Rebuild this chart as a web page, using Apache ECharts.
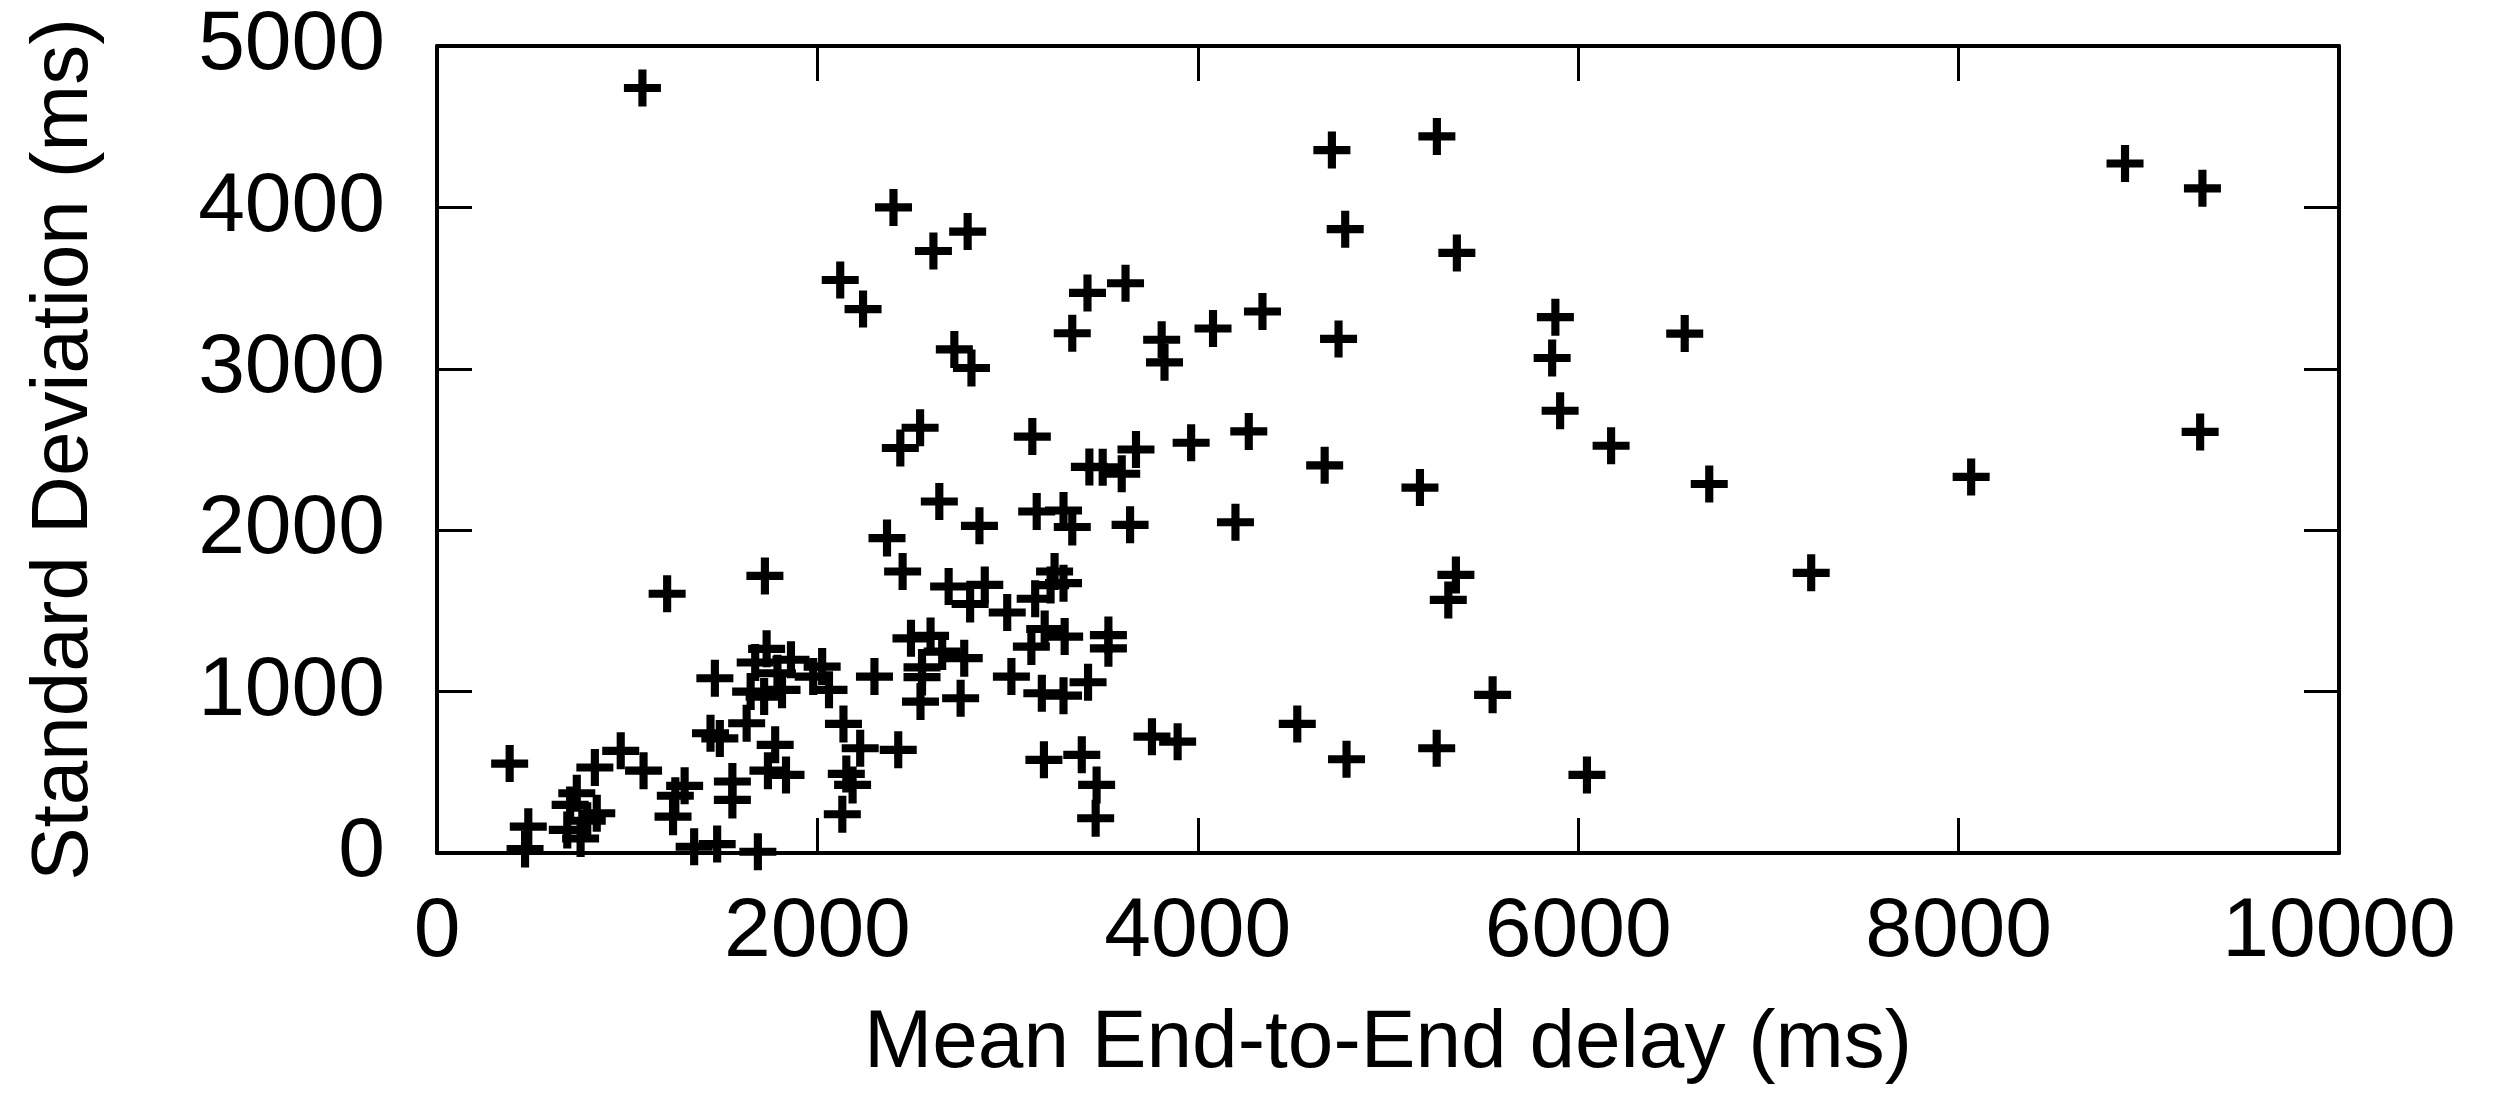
<!DOCTYPE html>
<html>
<head>
<meta charset="utf-8">
<title>Mean delay vs standard deviation</title>
<script src="https://cdn.jsdelivr.net/npm/echarts@6/dist/echarts.min.js"></script>
<style>
  html, body { margin: 0; padding: 0; background: #fff; }
  #chart { width: 2493px; height: 1099px; }
</style>
</head>
<body>
<div id="chart"></div>
<script>
// mean end-to-end delay (ms), one entry per session
const meanDelay = [
  1080, 2400, 2610, 2790, 2120, 2240, 2720, 2810, 3420, 3340, 3620, 3810, 3825, 4080, 4340,
  4705, 5257, 4775, 5362, 4740, 5880, 5863, 6560, 5905, 8875, 9282, 9270, 8066, 7225,
  2540, 2436, 3130, 3675, 3965, 4268, 3430, 3500, 3600, 4667, 5168, 6173, 6689,
  2641, 2852, 2366, 3153, 3294, 3340, 3644, 4198, 2448, 5357, 5317, 1210, 1724,
  2690, 2880, 2803,
  2998, 3145, 3195, 3300, 3125, 3247, 3294, 3226, 3530, 3530, 3020, 3180, 3294, 3423,
  2492, 2595, 2656, 2772, 2550, 2550, 2542, 2753, 2300,
  1461, 1733, 1673, 1861, 2025, 2061, 1978, 1649, 1720, 1814, 1790,
  2137, 2225, 2152, 2185, 2131, 2425, 1778, 1740, 1835, 1553, 1553, 1438, 1487, 1628,
  1302, 1253, 1241, 1352, 1473, 1687, 382, 480, 463, 830, 966, 1086, 700, 735, 840, 685, 755, 790,
  3759, 3894, 4523, 4782, 5256, 5550, 6046, 3191, 3390, 3468, 3463
]
// standard deviation of the delay (ms), same order as meanDelay
const stdDeviation = [
  4740, 4000, 3730, 3850, 3550, 3370, 3120, 3005, 3470, 3220, 3530, 3180, 3040, 3250, 3355,
  4355, 4440, 3865, 3718, 3185, 3320, 3067, 3218, 2740, 4272, 4118, 2609, 2330, 1736,
  2635, 2509, 2580, 2500, 2542, 2612, 2392, 2390, 2350, 2402, 2264, 2523, 2286,
  2178, 2027, 1951, 2116, 2122, 2020, 2033, 2049, 1744, 1723, 1568, 1606, 1717,
  1651, 1661, 1543,
  1490, 1575, 1388, 1341, 1279, 1744, 1672, 1660, 1350, 1268, 1093, 990, 975, 1058,
  1330, 1345, 1248, 1207, 1150, 1090, 938, 959, 1093,
  1083, 1265, 1180, 1197, 1155, 1011, 1093, 1000, 969, 1011, 1114,
  800, 649, 490, 422, 240, 639, 670, 510, 484, 443, 329, 742, 710, 804,
  416, 355, 225, 39, 55, 8, 554, 163, 25, 530, 633, 510, 298, 370, 246, 143, 90, 200,
  721, 690, 800, 581, 649, 980, 484, 577, 608, 422, 215
]

const xRange = [0, 10000, 2000]
const yRange = [0, 5000, 1000]

const font = 'Liberation Sans, Arial, Helvetica, sans-serif'
// thick plus sign, like gnuplot's point type 1
const plusPath = 'path://M3.9,0H6.1V3.9H10V6.1H6.1V10H3.9V6.1H0V3.9H3.9Z'

const chart = echarts.init(document.getElementById('chart'))

const frameLine = { show: true, onZero: false, lineStyle: { color: '#000', width: 4 } }
const frameTick = { show: true, inside: true, length: 35, lineStyle: { color: '#000', width: 3 } }
const plainNumber = (v) => String(v)

const option = {
  backgroundColor: '#fff',
  animation: false,
  grid: { left: 437, right: 154, top: 46, bottom: 246 },
  xAxis: [
    {
      type: 'value',
      min: xRange[0],
      max: xRange[1],
      interval: xRange[2],
      name: 'Mean End-to-End delay (ms)',
      nameLocation: 'middle',
      nameGap: 150,
      nameTextStyle: { color: '#000', fontSize: 82, fontFamily: font },
      axisLine: frameLine,
      axisTick: frameTick,
      splitLine: { show: false },
      axisLabel: { color: '#000', fontSize: 84, fontFamily: font, margin: 38, formatter: plainNumber }
    },
    {
      // top edge of the frame, ticks only
      type: 'value',
      position: 'top',
      min: xRange[0],
      max: xRange[1],
      interval: xRange[2],
      axisLine: frameLine,
      axisTick: frameTick,
      splitLine: { show: false },
      axisLabel: { show: false }
    }
  ],
  yAxis: [
    {
      type: 'value',
      min: yRange[0],
      max: yRange[1],
      interval: yRange[2],
      name: 'Standard Deviation (ms)',
      nameLocation: 'middle',
      nameGap: 332,
      nameTextStyle: { color: '#000', fontSize: 80, fontFamily: font },
      axisLine: frameLine,
      axisTick: frameTick,
      splitLine: { show: false },
      axisLabel: { color: '#000', fontSize: 84, fontFamily: font, margin: 52, formatter: plainNumber }
    },
    {
      // right edge of the frame
      type: 'value',
      position: 'right',
      min: yRange[0],
      max: yRange[1],
      interval: yRange[2],
      axisLine: frameLine,
      axisTick: frameTick,
      splitLine: { show: false },
      axisLabel: { show: false }
    }
  ],
  series: [
    {
      type: 'scatter',
      symbol: plusPath,
      symbolSize: 37,
      itemStyle: { color: '#000', opacity: 1 },
      emphasis: { disabled: true },
      data: meanDelay.map((x, i) => [x, stdDeviation[i]])
    }
  ]
}

chart.setOption(option)
</script>
</body>
</html>
